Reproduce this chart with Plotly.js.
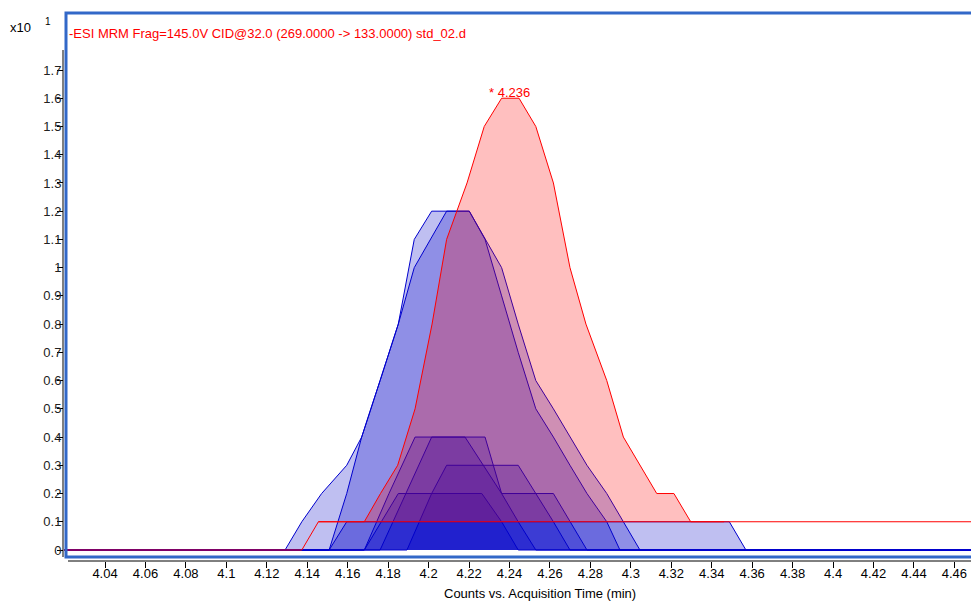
<!DOCTYPE html>
<html>
<head>
<meta charset="utf-8">
<script src="https://cdn.plot.ly/plotly-3.0.1.min.js"></script>
<style>html,body{margin:0;padding:0;background:#fff;}#chart{width:971px;height:602px;}</style>
</head>
<body>
<div id="chart"></div>
<script>
// ---- data (counts x10^1 vs acquisition time, min) ----
const redTime   = [4.000, 4.1373, 4.1455, 4.1682, 4.1762, 4.1847, 4.1933, 4.2017, 4.2089, 4.2190, 4.2275, 4.2361, 4.2447, 4.2530, 4.2617, 4.2699, 4.2778, 4.2881, 4.2963, 4.3045, 4.3128, 4.3213, 4.3296, 4.480];
const redCounts = [0, 0, 0.1, 0.1, 0.2, 0.3, 0.5, 0.8, 1.1, 1.3, 1.5, 1.6, 1.6, 1.5, 1.3, 1.0, 0.8, 0.6, 0.4, 0.3, 0.2, 0.2, 0.1, 0.1];
const redBaselineTime   = [4.1455, 4.3461];
const redBaselineCounts = [0.1, 0.1];
const peakLabel = '* 4.236';

const blueATime   = [4.000, 4.1290, 4.1373, 4.1471, 4.1595, 4.1669, 4.1760, 4.1850, 4.1929, 4.2015, 4.2201, 4.2279, 4.2361, 4.2443, 4.2530, 4.2617, 4.2699, 4.2783, 4.2881, 4.2963, 4.3487, 4.3569, 4.480];
const blueACounts = [0, 0, 0.1, 0.2, 0.3, 0.4, 0.6, 0.8, 1.1, 1.2, 1.2, 1.1, 1.0, 0.8, 0.6, 0.5, 0.4, 0.3, 0.2, 0.1, 0.1, 0, 0];

const blueBTime   = [4.000, 4.1508, 4.1595, 4.1669, 4.1760, 4.1850, 4.1929, 4.2089, 4.2201, 4.2279, 4.2361, 4.2443, 4.2530, 4.2617, 4.2699, 4.2783, 4.2881, 4.2946, 4.480];
const blueBCounts = [0, 0, 0.2, 0.4, 0.6, 0.8, 1.0, 1.2, 1.2, 1.1, 0.9, 0.7, 0.5, 0.4, 0.3, 0.2, 0.1, 0, 0];

const blueCTime   = [4.000, 4.1682, 4.1804, 4.1933, 4.2279, 4.2361, 4.2617, 4.2699, 4.2783, 4.480];
const blueCCounts = [0, 0, 0.2, 0.4, 0.4, 0.2, 0.2, 0.1, 0, 0];

const blueDTime   = [4.000, 4.1760, 4.2015, 4.2180, 4.2361, 4.2443, 4.2530, 4.480];
const blueDCounts = [0, 0, 0.4, 0.4, 0.2, 0.1, 0, 0];

const blueETime   = [4.000, 4.1893, 4.2015, 4.2089, 4.2443, 4.2530, 4.2617, 4.2699, 4.480];
const blueECounts = [0, 0, 0.2, 0.3, 0.3, 0.2, 0.1, 0, 0];

const blueFTime   = [4.000, 4.1682, 4.1850, 4.2263, 4.2361, 4.2443, 4.480];
const blueFCounts = [0, 0, 0.2, 0.2, 0.1, 0, 0];

const blueGTime   = [4.000, 4.1508, 4.1595, 4.2963, 4.3045, 4.480];
const blueGCounts = [0, 0, 0.1, 0.1, 0, 0];

const xTickVals = [4.04, 4.06, 4.08, 4.10, 4.12, 4.14, 4.16, 4.18, 4.20, 4.22, 4.24, 4.26, 4.28, 4.30, 4.32, 4.34, 4.36, 4.38, 4.40, 4.42, 4.44, 4.46];
const xTickText = ['4.04','4.06','4.08','4.1','4.12','4.14','4.16','4.18','4.2','4.22','4.24','4.26','4.28','4.3','4.32','4.34','4.36','4.38','4.4','4.42','4.44','4.46'];
const yTickVals = [0, 0.1, 0.2, 0.3, 0.4, 0.5, 0.6, 0.7, 0.8, 0.9, 1.0, 1.1, 1.2, 1.3, 1.4, 1.5, 1.6, 1.7];
const yTickText = ['0','0.1','0.2','0.3','0.4','0.5','0.6','0.7','0.8','0.9','1','1.1','1.2','1.3','1.4','1.5','1.6','1.7'];

const titleText = '-ESI MRM Frag=145.0V CID@32.0 (269.0000 -> 133.0000) std_02.d';
const xTitleText = 'Counts vs. Acquisition Time (min)';

// ---- styles ----
const FONT = 'Liberation Sans, Arial, Helvetica, sans-serif';
const FS = 13;
const blueFill = 'rgba(0,0,200,0.25)';
const blueLine = 'rgb(0,0,205)';
const redFill = 'rgba(255,0,0,0.25)';
const redLine = 'rgb(255,0,0)';

const blueSeries = [
  [blueATime, blueACounts], [blueBTime, blueBCounts], [blueCTime, blueCCounts],
  [blueDTime, blueDCounts], [blueETime, blueECounts], [blueFTime, blueFCounts],
  [blueGTime, blueGCounts]
];

const traces = [];
blueSeries.forEach(([t, c]) => {
  traces.push({x: t, y: c, type: 'scatter', mode: 'lines', fill: 'tozeroy',
    fillcolor: blueFill, line: {color: blueLine, width: 1}, hoverinfo: 'skip'});
});

// red integrated area: curve between baseline start/end, closed along baseline
const fx = [], fy = [];
redTime.forEach((t, i) => {
  if (t >= redBaselineTime[0] - 1e-9 && t <= redBaselineTime[1] + 1e-9) { fx.push(t); fy.push(redCounts[i]); }
});
fx.push(redBaselineTime[1]); fy.push(redBaselineCounts[1]);
traces.push({x: fx, y: fy, type: 'scatter', mode: 'lines', fill: 'toself',
  fillcolor: redFill, line: {width: 0}, hoverinfo: 'skip'});
traces.push({x: redBaselineTime, y: redBaselineCounts, type: 'scatter', mode: 'lines',
  line: {color: redLine, width: 1}, hoverinfo: 'skip'});
traces.push({x: redTime, y: redCounts, type: 'scatter', mode: 'lines',
  line: {color: redLine, width: 1}, hoverinfo: 'skip'});

// peak location from data
let pk = 0;
redCounts.forEach((v, i) => { if (v > redCounts[pk]) pk = i; });

// plot area in pixels: x 64..971, y 12..561
const L = 64, W = 907, T = 12, H = 549;
const px = v => (v - L) / W;
const py = v => (T + H - v) / H;

const layout = {
  width: 971, height: 602,
  margin: {l: L, r: 0, t: T, b: 602 - T - H, pad: 0},
  paper_bgcolor: '#ffffff', plot_bgcolor: '#ffffff',
  showlegend: false,
  font: {family: FONT, size: FS, color: '#000'},
  xaxis: {
    range: [4.0197, 4.4682], tickvals: xTickVals, ticktext: xTickText,
    ticks: 'outside', ticklen: 6, tickwidth: 1, tickcolor: '#000',
    showgrid: false, zeroline: false, showline: false,
    tickfont: {family: FONT, size: FS, color: '#000'},
    ticklabelstandoff: -6
  },
  yaxis: {
    range: [-0.03896, 1.9054], tickvals: yTickVals, ticktext: yTickText,
    ticks: 'outside', ticklen: 6, tickwidth: 1, tickcolor: '#000',
    showgrid: false, zeroline: false, showline: false,
    tickfont: {family: FONT, size: FS, color: '#222'},
    ticklabelstandoff: -7
  },
  shapes: [
    {type: 'rect', xref: 'paper', yref: 'paper', x0: px(66), x1: 1.05, y0: py(557), y1: py(13),
     line: {color: '#3268c8', width: 3}, fillcolor: 'rgba(0,0,0,0)', layer: 'above'},
    {type: 'line', xref: 'paper', yref: 'paper', x0: px(63), x1: px(63), y0: py(557), y1: py(50),
     line: {color: '#000', width: 1}, layer: 'above'},
    {type: 'line', xref: 'paper', yref: 'paper', x0: px(68), x1: 1.05, y0: 0, y1: 0,
     line: {color: '#000', width: 1}, layer: 'above'}
  ],
  annotations: [
    {xref: 'paper', yref: 'paper', x: px(8), y: py(28), xanchor: 'left', yanchor: 'middle',
     text: 'x10', showarrow: false, font: {family: FONT, size: FS, color: '#000'}},
    {xref: 'paper', yref: 'paper', x: px(43), y: py(21), xanchor: 'left', yanchor: 'middle',
     text: '1', showarrow: false, font: {family: FONT, size: 10, color: '#000'}},
    {xref: 'paper', yref: 'paper', x: px(67), y: py(33), xanchor: 'left', yanchor: 'middle',
     text: titleText, showarrow: false, font: {family: FONT, size: FS, color: '#ff0000'}},
    {xref: 'paper', yref: 'paper', x: px(540), y: py(593), xanchor: 'center', yanchor: 'middle',
     text: xTitleText, showarrow: false, font: {family: FONT, size: FS, color: '#000'}},
    {xref: 'x', yref: 'y', x: redTime[pk], y: redCounts[pk], xanchor: 'left', yanchor: 'middle',
     xshift: -15, yshift: 6, text: peakLabel, showarrow: false, font: {family: FONT, size: FS, color: '#ff0000'}}
  ]
};

Plotly.newPlot('chart', traces, layout, {staticPlot: true, displayModeBar: false});
</script>
</body>
</html>
